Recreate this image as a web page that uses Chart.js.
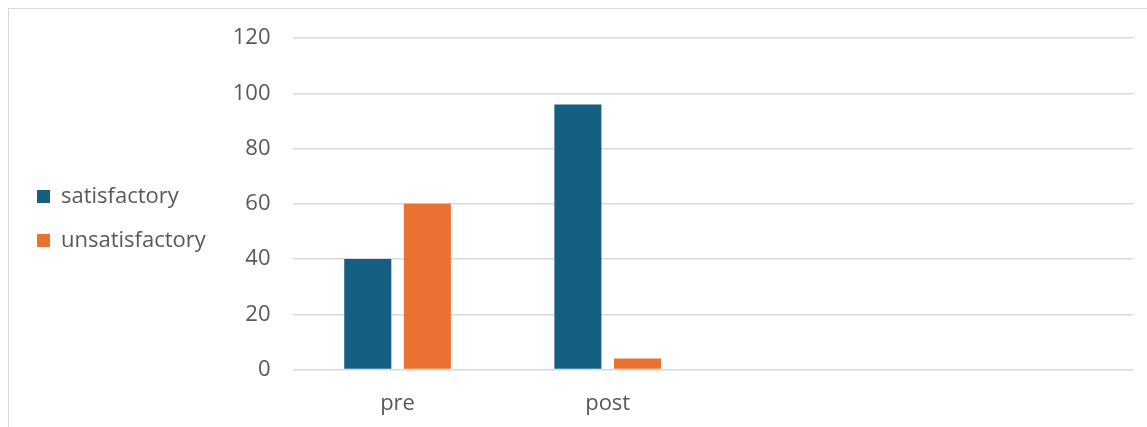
<!DOCTYPE html>
<html>
<head>
<meta charset="utf-8">
<script src="https://cdn.jsdelivr.net/npm/chart.js@4"></script>
<style>
  body { margin: 0; background: #fff; overflow: hidden; }
  #box {
    position: absolute; left: 8px; top: 8px;
    width: 1150px; height: 430px;
    border-left: 1.5px solid #d9d9d9; border-top: 1.5px solid #d9d9d9;
  }
  #wrap { position: absolute; left: 0; top: -6px; width: 1139px; height: 425px; }
</style>
</head>
<body>
<div id="box"><div id="wrap"><canvas id="resultsChart"></canvas></div></div>
<script>
const categories = ["pre", "post", "", ""];
const satisfactory = [40, 96, null, null];
const unsatisfactory = [60, 4, null, null];
const yTicks = [0, 20, 40, 60, 80, 100, 120];

// where the plot area should sit inside the canvas
const plotLeft = 283.5;
const plotBottom = 366.5;
let yExtra = 0;
let xExtra = 0;

document.addEventListener("DOMContentLoaded", () => {
  Chart.defaults.font.family = "'Open Sans', sans-serif";
  Chart.defaults.font.size = 22;
  Chart.defaults.color = "#595959";

  const ctx = document.getElementById("resultsChart").getContext("2d");
  const chart = new Chart(ctx, {
    type: "bar",
    data: {
      labels: categories,
      datasets: [
        { label: "satisfactory", data: satisfactory, backgroundColor: "#156082" },
        { label: "unsatisfactory", data: unsatisfactory, backgroundColor: "#E97132" },
      ],
    },
    options: {
      responsive: true,
      maintainAspectRatio: false,
      animation: false,
      categoryPercentage: 0.567,
      barPercentage: 0.79,
      layout: { padding: { left: 6, right: 15, top: 6, bottom: 0 } },
      plugins: {
        tooltip: { enabled: false },
        legend: {
          position: "left",
          labels: { boxWidth: 13, boxHeight: 13, padding: 22, color: "#595959" },
        },
      },
      scales: {
        x: {
          grid: { display: false, drawTicks: false },
          border: { display: false },
          ticks: { padding: 21 },
          afterFit: (scale) => { scale.height -= xExtra; },
        },
        y: {
          min: 0,
          max: 120,
          afterBuildTicks: (scale) => { scale.ticks = yTicks.map((v) => ({ value: v })); },
          afterFit: (scale) => { scale.width += yExtra; },
          grid: { color: "#d9d9d9", lineWidth: 1.5, drawTicks: false },
          border: { display: false },
          ticks: { padding: 22 },
        },
      },
    },
  });

  yExtra = plotLeft - chart.chartArea.left;
  xExtra = plotBottom - chart.chartArea.bottom;
  chart.update();
});
</script>
</body>
</html>
